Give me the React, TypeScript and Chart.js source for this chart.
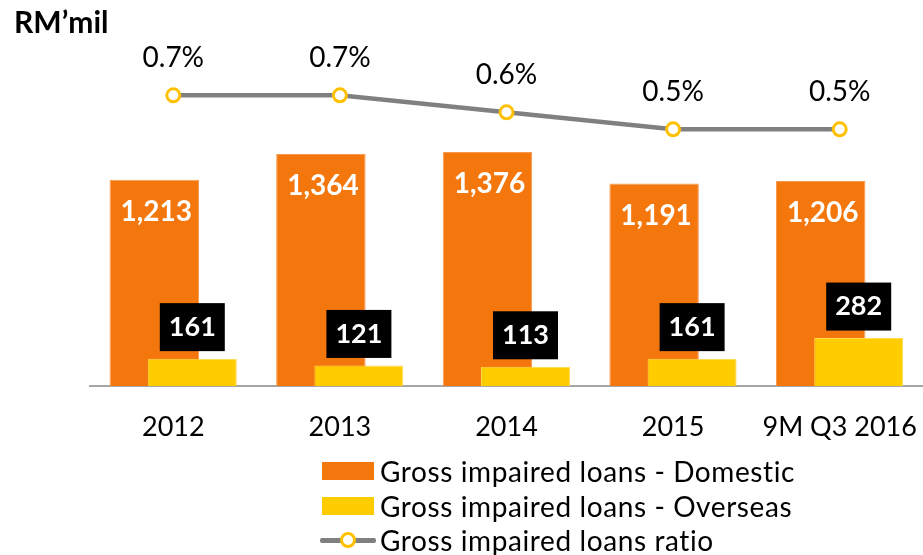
import React, { useEffect, useRef } from "react";
import { Chart, registerables } from "chart.js";

Chart.register(...registerables);

const categories = ["2012", "2013", "2014", "2015", "9M Q3 2016"];
const domesticValues = [1213, 1364, 1376, 1191, 1206];
const overseasValues = [161, 121, 113, 161, 282];
const ratioValues = [0.7, 0.7, 0.6, 0.5, 0.5];
const seriesNames = [
  "Gross impaired loans - Domestic",
  "Gross impaired loans - Overseas",
  "Gross impaired loans ratio",
];
const unitLabel = "RM\u2019mil";

const ORANGE = "#F4770E";
const ORANGE_EDGE = "#F89A4E";
const YELLOW = "#FFCC00";
const YELLOW_EDGE = "#FFDC50";
const MARKER = "#FFC000";
const LINE_GRAY = "#808080";
const AXIS_GRAY = "#A6A6A6";
const FONT = "Lato";

// style: the two bars of a category overlap, shifted left/right by this many pixels
const BAR_SHIFT = 19;

const barOffsetPlugin = {
  id: "barOffsets",
  afterLayout(chart: any) {
    const left = chart.chartArea.left;
    const right = chart.width;
    const place = (id: string, shift: number) => {
      const s = chart.scales[id];
      if (!s) return;
      s.left = left + shift;
      s.right = right + shift;
      s.width = s.right - s.left;
      s.configure();
    };
    place("x", 0);
    place("xd", -BAR_SHIFT);
    place("xo", BAR_SHIFT);
  },
};

const labelPlugin = {
  id: "valueLabels",
  afterDatasetsDraw(chart: any) {
    const ctx = chart.ctx;
    ctx.save();
    ctx.textAlign = "center";
    ctx.textBaseline = "middle";

    const mDom = chart.getDatasetMeta(0);
    ctx.font = `bold 28px ${FONT}`;
    ctx.fillStyle = "#FFFFFF";
    mDom.data.forEach((el: any, i: number) => {
      ctx.fillText(domesticValues[i].toLocaleString("en-US"), el.x + 2, el.y + 32);
    });

    const mOv = chart.getDatasetMeta(1);
    mOv.data.forEach((el: any, i: number) => {
      const bw = 65;
      const bh = 48;
      const bottom = el.y - 7.5;
      ctx.fillStyle = "#000000";
      ctx.fillRect(el.x - bw / 2, bottom - bh, bw, bh);
      ctx.fillStyle = "#FFFFFF";
      ctx.font = `bold 27px ${FONT}`;
      ctx.fillText(String(overseasValues[i]), el.x, bottom - bh / 2);
    });

    const mRatio = chart.getDatasetMeta(2);
    ctx.font = `28px ${FONT}`;
    ctx.fillStyle = "#000000";
    mRatio.data.forEach((el: any, i: number) => {
      ctx.fillText(ratioValues[i].toFixed(1) + "%", el.x, el.y - 37);
    });
    ctx.restore();
  },
};

function LegendIcon({ kind }: { kind: number }) {
  if (kind === 2) {
    return (
      <div style={{ position: "relative", width: 56, height: 18, marginRight: 4, flexShrink: 0 }}>
        <div style={{ position: "absolute", left: 0, top: 7, width: 56, height: 5, background: LINE_GRAY, borderRadius: 2 }} />
        <div
          style={{
            position: "absolute",
            left: 20,
            top: 1,
            width: 10,
            height: 10,
            borderRadius: "50%",
            background: "#FFFFFF",
            border: `3px solid ${MARKER}`,
          }}
        />
      </div>
    );
  }
  return (
    <div style={{ width: 52, height: 18, marginLeft: 2, marginRight: 6, flexShrink: 0, background: kind === 0 ? ORANGE : YELLOW }} />
  );
}

export default function App() {
  const canvasRef = useRef<HTMLCanvasElement | null>(null);

  useEffect(() => {
    if (!canvasRef.current) return;
    const chart = new Chart(canvasRef.current, {
      type: "bar",
      data: {
        labels: categories,
        datasets: [
          {
            type: "bar",
            label: seriesNames[0],
            data: domesticValues,
            backgroundColor: ORANGE,
            borderColor: ORANGE_EDGE,
            borderWidth: 1,
            xAxisID: "xd",
            yAxisID: "y",
            grouped: false,
            categoryPercentage: 1,
            barPercentage: 0.537,
            order: 3,
          },
          {
            type: "bar",
            label: seriesNames[1],
            data: overseasValues,
            backgroundColor: YELLOW,
            borderColor: YELLOW_EDGE,
            borderWidth: 1,
            xAxisID: "xo",
            yAxisID: "y",
            grouped: false,
            categoryPercentage: 1,
            barPercentage: 0.534,
            order: 2,
          },
          {
            type: "line",
            label: seriesNames[2],
            data: ratioValues,
            borderColor: LINE_GRAY,
            borderWidth: 4.5,
            pointRadius: 6.5,
            pointBorderWidth: 3,
            pointBackgroundColor: "#FFFFFF",
            pointBorderColor: MARKER,
            tension: 0,
            xAxisID: "x",
            yAxisID: "y1",
            order: 1,
            clip: false,
          } as any,
        ],
      },
      options: {
        responsive: false,
        animation: false,
        layout: { padding: { left: 14, right: 0, top: 0, bottom: 0 } },
        plugins: {
          legend: { display: false },
          tooltip: { enabled: false },
          title: {
            display: true,
            text: unitLabel,
            align: "start",
            color: "#000000",
            font: { family: FONT, size: 30, weight: "bold" },
            padding: { top: 5, bottom: 5 },
          },
        },
        scales: {
          x: {
            type: "category",
            position: "bottom",
            offset: true,
            grid: { display: false, drawTicks: true, tickLength: 25 },
            border: { display: true, color: AXIS_GRAY, width: 2 },
            ticks: {
              color: "#000000",
              font: { family: FONT, size: 27 },
              padding: 0,
              maxRotation: 0,
              autoSkip: false,
            },
            afterFit: (s: any) => {
              s.height = 169;
            },
          },
          xd: {
            type: "category",
            axis: "x",
            position: "bottom",
            display: false,
            offset: true,
            grid: { display: false },
            ticks: { display: false },
          },
          xo: {
            type: "category",
            axis: "x",
            position: "bottom",
            display: false,
            offset: true,
            grid: { display: false },
            ticks: { display: false },
          },
          y: {
            type: "linear",
            position: "left",
            min: 0,
            max: 2000,
            grid: { display: false },
            border: { display: false },
            ticks: { display: false },
            afterFit: (s: any) => {
              s.width = 76;
            },
          },
          y1: { type: "linear", axis: "y", position: "right", display: false, min: -1.01, max: 0.99, ticks: { display: false } },
        },
      } as any,
      plugins: [barOffsetPlugin, labelPlugin],
    });
    return () => chart.destroy();
  }, []);

  const rowCenters = [471, 506, 540];

  return (
    <div style={{ position: "absolute", left: 0, top: 0, width: 923, height: 555, background: "#FFFFFF", overflow: "hidden" }}>
      <canvas ref={canvasRef} width={923} height={555} style={{ display: "block", width: 923, height: 555 }} />
      {seriesNames.map((name, i) => (
        <div
          key={name}
          style={{
            position: "absolute",
            left: 320,
            top: rowCenters[i] - 17,
            height: 34,
            display: "flex",
            alignItems: "center",
            fontFamily: FONT,
            fontSize: 28,
            letterSpacing: "0.6px",
            color: "#000000",
            whiteSpace: "nowrap",
            lineHeight: "34px",
          }}
        >
          <LegendIcon kind={i} />
          <span>{name}</span>
        </div>
      ))}
    </div>
  );
}
